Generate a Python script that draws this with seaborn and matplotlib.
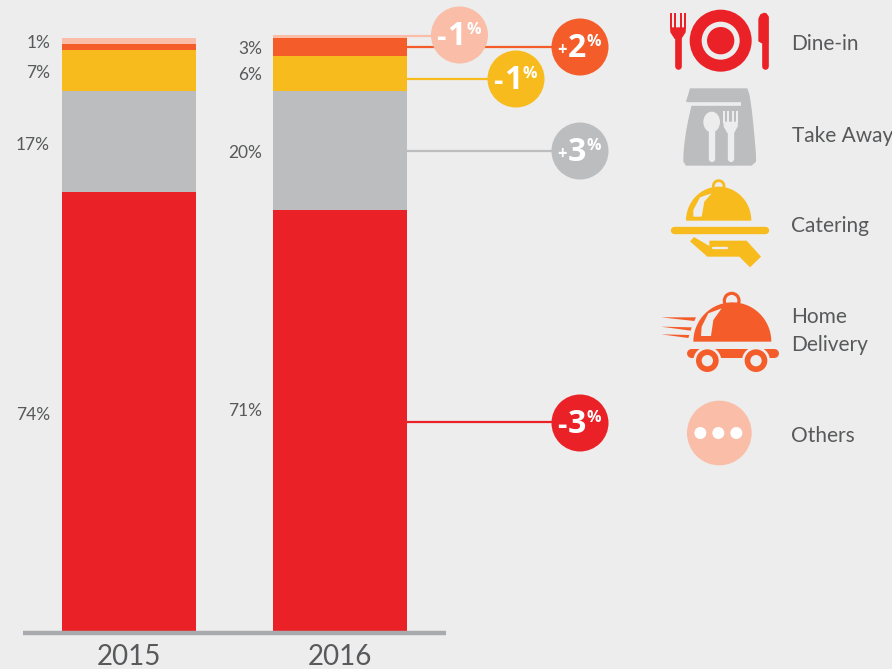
import numpy as np
import pandas as pd
import seaborn as sns
import matplotlib
matplotlib.use('Agg')
import matplotlib.pyplot as plt
from matplotlib.patches import Circle, Ellipse, Polygon

# Data
years = ['2015', '2016']
dine_in = [74, 71]
take_away = [17, 20]
catering = [7, 6]
home_delivery = [1, 3]
others = [1, 0.5]
labels_2015 = ['74%', '17%', '7%', '1%']
labels_2016 = ['71%', '20%', '6%', '3%']
changes = ['-3', '+3', '-1', '+2', '-1']
legend_names = ['Dine-in', 'Take Away', 'Catering', 'Home\nDelivery', 'Others']

# Colours
RED = '#ea2227'
GREY = '#bcbdbf'
YELLOW = '#f7bb1e'
ORANGE = '#f45c2a'
PEACH = '#f9bda8'
BG = '#ededed'
TXT = '#58595b'
AXIS = '#a9aaad'

sns.set_theme(style='white')
plt.rcParams['font.family'] = ['Lato', 'DejaVu Sans']

W, H = 892, 669
BASE = 631        # pixel row of the baseline
PX_PER_PCT = 5.93
fig = plt.figure(figsize=(W / 100, H / 100), dpi=100, facecolor=BG)

# Bars, in percent
ax = fig.add_axes([0, (H - BASE) / H, 1, BASE / H])
ax.set_facecolor('none')
series = [dine_in, take_away, catering, home_delivery, others]
colors = [RED, GREY, YELLOW, ORANGE, PEACH]
bottom = np.zeros(2)
for vals, col in zip(series, colors):
    df = pd.DataFrame({'year': years, 'share': vals})
    sns.barplot(data=df, x='year', y='share', order=years, color=col, saturation=1,
                width=134 / 211, bottom=bottom, linewidth=0, edgecolor='none', ax=ax)
    bottom = bottom + np.array(vals)
ax.set_xlim(-129 / 211, (W - 129) / 211)
ax.set_ylim(0, BASE / PX_PER_PCT)
ax.set_xlabel('')
ax.set_ylabel('')
ax.set_yticks([])
sns.despine(ax=ax, left=True)
ax.spines['bottom'].set_position(('outward', 1.6))
ax.spines['bottom'].set_bounds((23 - 129) / 211, (446 - 129) / 211)
ax.spines['bottom'].set_color(AXIS)
ax.spines['bottom'].set_linewidth(3.2)
ax.spines['bottom'].set_capstyle('butt')
ax.tick_params(axis='x', length=0, pad=8, labelsize=20, labelcolor=TXT)

# Overlay in pixel coordinates for labels, bubbles and icons
px = fig.add_axes([0, 0, 1, 1])
px.set_xlim(0, W)
px.set_ylim(H, 0)
px.axis('off')
px.patch.set_alpha(0)


def label(x, y, s, size=12.5, color=TXT, ha='right', **kw):
    px.text(x, y, s, fontsize=size, color=color, ha=ha, va='center', **kw)


for s, y in zip(labels_2015, [414.5, 144.5, 72.5, 43.5]):
    label(50, y, s)
for s, y in zip(labels_2016, [410.5, 153.5, 75.5, 49.5]):
    label(262, y, s)

# Connector lines and change bubbles
bubbles = [(580, 423, RED, 422), (580, 151, GREY, 151), (516, 79, YELLOW, 79),
           (580, 47, ORANGE, 47), (459.5, 35, PEACH, 36)]
for ch, (cx, cy, col, ly) in zip(changes, bubbles):
    px.plot([407, cx], [ly, ly], color=col, lw=1.6, solid_capstyle='butt', zorder=2)
    px.add_patch(Circle((cx, cy), 28.5, fc=col, ec='none', zorder=3))
    plus = ch[0] == '+'
    px.text(cx - 18.5, cy + 3, ch[0], family='Open Sans', fontsize=12 if plus else 21,
            fontweight='bold', color='white', ha='center', va='center', zorder=4)
    px.text(cx - 3, cy + 1.5, ch[1], family='Open Sans', fontsize=23, fontweight='bold', color='white',
            ha='center', va='center', zorder=4)
    px.text(cx + 14, cy - 5, '%', family='Open Sans', fontsize=11.5, fontweight='bold', color='white',
            ha='center', va='center', zorder=4)

for s, y in zip(legend_names, [43.5, 135.5, 226.5, 331, 435.5]):
    label(791.5, y, s, size=15, ha='left', linespacing=1.45)


# Icons: coordinates are 3x zoomed pixels, mapped by p()
def p(pts, y0=0):
    return [(650 + a / 3, y0 + b / 3) for a, b in pts]


def poly(pts, col, y0=0):
    px.add_patch(Polygon(p(pts, y0), closed=True, fc=col, ec='none'))


def stroke(pts, col, w, y0=0, cap='round'):
    q = np.array(p(pts, y0))
    px.plot(q[:, 0], q[:, 1], color=col, lw=w / 3 * 0.72, solid_capstyle=cap)


def circ(x, y, r, col, y0=0, **kw):
    px.add_patch(Circle(p([(x, y)], y0)[0], r / 3, fc=col, ec='none', **kw))


def dome(cx, base, rx, ry, n=40):
    t = np.linspace(np.pi, 0, n)
    return list(zip(cx + rx * np.cos(t), base - ry * np.sin(t)))


def fork(x, top, neck, end, col, w_head, w_handle):
    # four tines, then a tapering head and a round-ended handle
    for dx in (-w_head / 2 + 3, -w_head / 6, w_head / 6, w_head / 2 - 3):
        stroke([(x + dx, top), (x + dx, neck)], col, 6, cap='butt')
    poly([(x - w_head / 2, neck - 3), (x + w_head / 2, neck - 3), (x + w_head / 2 - 1, neck + 12),
          (x + w_handle / 2, neck + 32), (x - w_handle / 2, neck + 32), (x - w_head / 2 + 1, neck + 12)], col)
    stroke([(x, neck + 28), (x, end)], col, w_handle)


# Dine-in
circ(212, 122, 93, RED)
circ(212, 122, 57, BG)
circ(212, 122, 41, RED)
fork(84, 40, 85, 197, RED, 48, 20)
stroke([(345, 50), (345, 197)], RED, 20)
poly([(325, 56), (331, 43), (342, 38), (350, 40), (355, 50), (355, 130), (335, 130), (325, 124)], RED)

# Take Away
t = np.linspace(0, 1, 12)
right = [(292 + 26 * u ** 0.6, 265 + 200 * u) for u in t]
left = [(100 + 25 * u ** 1.6, 475 - 160 * u) for u in t]
poly([(120, 265)] + right + [(318, 485), (305, 497), (108, 497), (100, 485)] + left + [(108, 305)], GREY)
stroke([(112, 311), (274, 311)], BG, 11, cap='butt')
px.add_patch(Ellipse(p([(185, 366)])[0], 50 / 3, 62 / 3, fc=BG, ec='none'))
stroke([(185, 380), (185, 476)], BG, 19)
fork(242, 332, 368, 476, BG, 44, 19)

# Catering
poly(dome(206, 662, 98, 102), YELLOW)
px.add_patch(Circle(p([(206, 558)])[0], 16 / 3, fc='none', ec=YELLOW, lw=2))
poly([(130, 650), (155, 650), (163, 605), (185, 580), (150, 592), (130, 630)], BG)
stroke([(72, 691), (345, 691)], YELLOW, 22)
poly([(120, 724), (132, 711), (178, 738), (178, 722), (290, 722), (333, 770), (300, 802),
      (268, 770), (172, 770)], YELLOW)
stroke([(190, 744), (232, 744)], BG, 7)

# Home Delivery
Y4 = 270
px.add_patch(Circle(p([(245, 92)], Y4)[0], 22 / 3, fc='none', ec=ORANGE, lw=2.3))
poly(dome(247, 215, 117, 118), ORANGE, Y4)
poly([(153, 198), (183, 198), (190, 150), (215, 115), (175, 130), (155, 170)], BG, Y4)
for pts in ([(33, 142), (138, 142), (133, 153)], [(33, 170), (125, 172), (122, 182)],
            [(33, 193), (118, 195), (115, 204)]):
    poly(pts, ORANGE, Y4)
stroke([(122, 248), (371, 248)], ORANGE, 27, Y4)
for wx in (172, 318):
    circ(wx, 272, 42, BG, Y4, zorder=2)
    circ(wx, 272, 34, ORANGE, Y4, zorder=3)
    circ(wx, 272, 17, BG, Y4, zorder=4)

# Others
circ(208, 489, 97, PEACH, Y4)
for dx in (151, 205, 259):
    circ(dx, 489, 18, 'white', Y4)

fig.savefig('out.png', dpi=100, facecolor=BG)
